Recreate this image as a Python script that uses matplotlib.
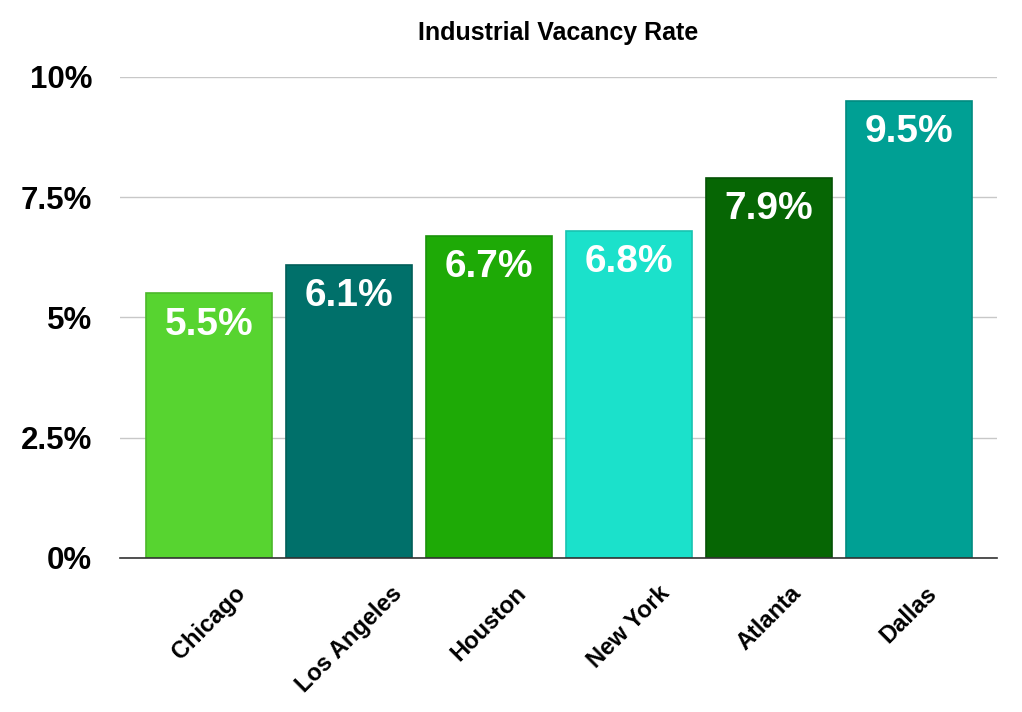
import matplotlib
matplotlib.use('Agg')
import matplotlib.pyplot as plt
import numpy as np

# ── Data ──────────────────────────────────────────────────────────────────────

cities = ['Chicago', 'Los Angeles', 'Houston', 'New York', 'Atlanta', 'Dallas']
vacancy = [5.5, 6.1, 6.7, 6.8, 7.9, 9.5]
bar_colors = ['#57D430', '#00706A', '#1EAA06', '#1BE1CB', '#066604', '#00A094']
edge_colors = ['#4CB82A', '#005E59', '#1A930A', '#18C4B1', '#045204', '#008B80']
yticks = [0, 2.5, 5, 7.5, 10]
ytick_labels = ['0%', '2.5%', '5%', '7.5%', '10%']

plt.rcParams['font.family'] = ['Liberation Sans', 'DejaVu Sans']

fig = plt.figure(figsize=(10.22, 7.12), dpi=100)
ax = fig.add_axes([0.1174, 0.2163, 0.858, 0.6756])

x = np.arange(len(cities))
bars = ax.bar(x, vacancy, width=0.9, color=bar_colors, edgecolor=edge_colors,
              linewidth=1.2, zorder=3)

for xi, v in zip(x, vacancy):
    ax.annotate(f'{v}%', (xi, v), xytext=(0, -22.5), textcoords='offset points',
                ha='center', va='center', color='white', fontsize=28,
                fontweight='bold', zorder=4)

ax.set_xlim(-0.635, len(cities) - 1 + 0.63)
ax.set_ylim(0, 10)
ax.set_yticks(yticks)
ax.set_yticklabels(ytick_labels, fontsize=22.5, fontweight='bold')
ax.set_xticks(x)
ax.set_xticklabels(cities, rotation=45, ha='center', va='top',
                   fontsize=17, fontweight='bold')
ax.tick_params(axis='y', length=0, pad=20)
ax.tick_params(axis='x', length=0, pad=17)

ax.grid(axis='y', color='#C8C8C8', linewidth=1.0, zorder=0)
for side in ['top', 'right', 'left']:
    ax.spines[side].set_visible(False)
ax.spines['bottom'].set_color('#333333')
ax.spines['bottom'].set_linewidth(1.2)
ax.spines['bottom'].set_zorder(5)

fig.text(0.546, 0.9537, 'Industrial Vacancy Rate', ha='center', va='center',
         fontsize=18, fontweight='bold')

fig.savefig('out.png', dpi=100)
